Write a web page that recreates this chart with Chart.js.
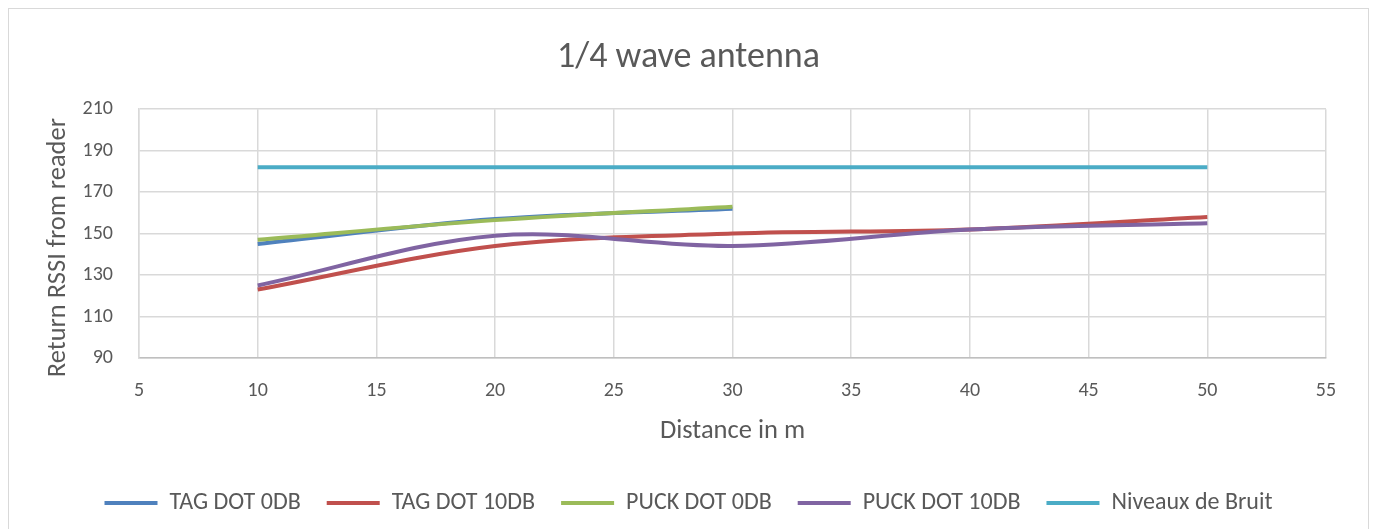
<!DOCTYPE html>
<html>
<head>
<meta charset="utf-8">
<script src="https://cdn.jsdelivr.net/npm/chart.js@4/dist/chart.umd.min.js"></script>
<style>
  html, body { margin: 0; padding: 0; background: #fff; overflow: hidden; }
  canvas { display: block; }
</style>
</head>
<body>
<canvas id="chart" width="1377" height="529"></canvas>
<script>
// Distances (m) at which the readings were taken
const distances = [10, 20, 30, 40, 50];
const shortDistances = [10, 20, 30];

// Return RSSI readings per device
const tagDot0db = [145, 157, 162];
const tagDot10db = [123, 144, 150, 152, 158];
const puckDot0db = [147, 156.5, 163];
const puckDot10db = [125, 149, 144, 152, 155];
const noiseLevel = [182, 182, 182, 182, 182];

const seriesNames = ['TAG DOT 0DB', 'TAG DOT 10DB', 'PUCK DOT 0DB', 'PUCK DOT 10DB', 'Niveaux de Bruit'];
const seriesColors = ['#4F81BD', '#C0504D', '#9BBB59', '#8064A2', '#4BACC6'];

const xRange = [5, 55];
const xStep = 5;
const yRange = [90, 210];
const yStep = 20;

const textColor = '#595959';
const gridColor = '#d9d9d9';
Chart.defaults.font.family = "Carlito, Calibri, 'Liberation Sans', Arial, sans-serif";
Chart.defaults.color = textColor;

function points(xs, ys) {
  return xs.map((x, i) => ({ x: x, y: ys[i] }));
}

const seriesData = [
  points(shortDistances, tagDot0db),
  points(distances, tagDot10db),
  points(shortDistances, puckDot0db),
  points(distances, puckDot10db),
  points(distances, noiseLevel)
];

const datasets = seriesData.map((data, i) => ({
  label: seriesNames[i],
  data: data,
  borderColor: seriesColors[i],
  backgroundColor: seriesColors[i],
  borderWidth: 4,
  pointRadius: 0,
  tension: 0.34,
  fill: false,
  // later series are painted over earlier ones
  order: seriesData.length - i
}));

// white page with a thin frame around the chart
const framePlugin = {
  id: 'frame',
  beforeDraw(chart) {
    const ctx = chart.ctx;
    ctx.save();
    ctx.fillStyle = '#ffffff';
    ctx.fillRect(0, 0, chart.width, chart.height);
    ctx.strokeStyle = '#d9d9d9';
    ctx.lineWidth = 1;
    ctx.strokeRect(8.5, 8.5, 1360, 530);
    ctx.restore();
  }
};

// nudge the vertical axis title slightly downward
const yTitleOffset = {
  id: 'yTitleOffset',
  beforeDraw(chart) {
    const s = chart.scales.y;
    if (s && !s._titleNudged) {
      const draw = s.drawTitle;
      s.drawTitle = function () {
        this.ctx.save();
        this.ctx.translate(0, 14);
        draw.call(this);
        this.ctx.restore();
      };
      s._titleNudged = true;
    }
  }
};

new Chart(document.getElementById('chart'), {
  type: 'line',
  data: { datasets: datasets },
  plugins: [framePlugin, yTitleOffset],
  options: {
    responsive: false,
    animation: false,
    devicePixelRatio: 1,
    layout: { padding: { left: 0, right: 0, top: 0, bottom: 4 } },
    plugins: {
      title: {
        display: true,
        text: '1/4 wave antenna',
        color: textColor,
        font: { size: 36, weight: 'normal' },
        padding: { top: 36, bottom: 30 }
      },
      legend: {
        position: 'bottom',
        labels: {
          usePointStyle: true,
          pointStyle: 'line',
          pointStyleWidth: 53,
          padding: 26,
          color: textColor,
          font: { size: 24 },
          sort: (a, b) => a.datasetIndex - b.datasetIndex
        }
      },
      tooltip: { enabled: false }
    },
    scales: {
      x: {
        type: 'linear',
        min: xRange[0],
        max: xRange[1],
        ticks: { stepSize: xStep, padding: 21, color: textColor, font: { size: 20 } },
        grid: { color: gridColor, lineWidth: 1.5, drawTicks: false },
        border: { color: '#bfbfbf', width: 1.5 },
        title: {
          display: true,
          text: 'Distance in m',
          color: textColor,
          font: { size: 26.5 },
          padding: { top: 0, bottom: 18 }
        },
        afterFit: (scale) => { scale.height = 107; }
      },
      y: {
        type: 'linear',
        min: yRange[0],
        max: yRange[1],
        ticks: { stepSize: yStep, padding: 26, color: textColor, font: { size: 20 } },
        grid: { color: gridColor, lineWidth: 1.5, drawTicks: false },
        border: { color: gridColor, width: 1.5 },
        title: {
          display: true,
          text: 'Return RSSI from reader',
          color: textColor,
          font: { size: 26.5 },
          padding: { top: 42.5, bottom: 0 }
        },
        afterFit: (scale) => { scale.width = 139; }
      },
      // empty margin on the right of the plot
      yRight: {
        type: 'linear',
        position: 'right',
        min: yRange[0],
        max: yRange[1],
        ticks: { display: false },
        grid: { display: false, drawOnChartArea: false, drawTicks: false },
        border: { display: false },
        afterFit: (scale) => { scale.width = 51; }
      }
    }
  }
});
</script>
</body>
</html>
